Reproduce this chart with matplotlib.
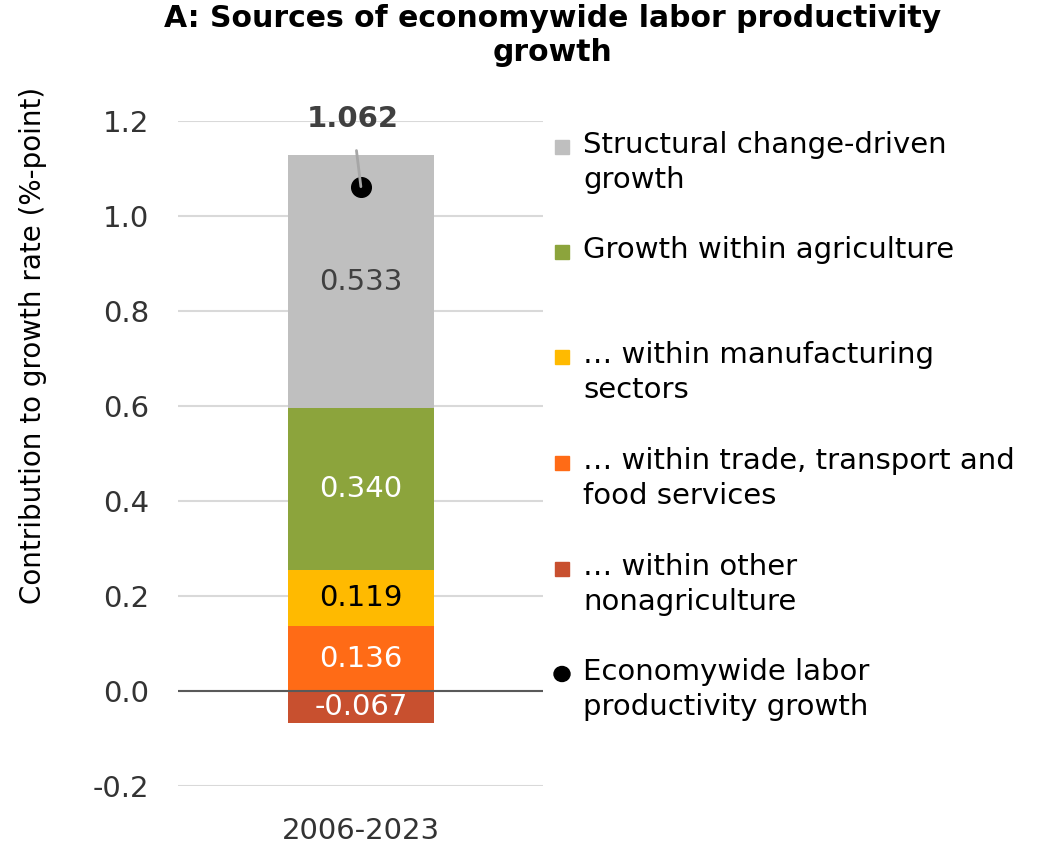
import matplotlib
matplotlib.use("Agg")
import matplotlib.pyplot as plt
from matplotlib.patches import Rectangle, Ellipse

plt.rcParams['font.family'] = ['DejaVu Sans']

period = ["2006-2023"]
components = [
    "Structural change-driven\ngrowth",
    "Growth within agriculture",
    "… within manufacturing\nsectors",
    "… within trade, transport and\nfood services",
    "… within other\nnonagriculture",
]
values = [0.533, 0.340, 0.119, 0.136, -0.067]
colors = ["#BFBFBF", "#8CA43C", "#FFBA00", "#FF6B16", "#C8502F"]
label_colors = ["#404040", "white", "black", "white", "white"]
total_label = "Economywide labor\nproductivity growth"
total = 1.062

fig = plt.figure(figsize=(10.43, 8.47), dpi=100)
ax = fig.add_axes([0.171, 0.072, 0.350, 0.785])

# stack positives upward from zero (bottom item first), negatives downward
order = [4, 3, 2, 1, 0]
pos_base, neg_base = 0.0, 0.0
for i in order:
    v = values[i]
    if v >= 0:
        bottom = pos_base
        pos_base += v
    else:
        bottom = neg_base + v
        neg_base += v
    ax.bar(0, abs(v), bottom=bottom, width=0.4, color=colors[i], zorder=2)
    ax.text(0, bottom + abs(v) / 2, f"{v:.3f}", ha='center', va='center',
            fontsize=21, color=label_colors[i], zorder=4)

ax.scatter([0], [total], s=200, color='black', zorder=5)
ax.annotate(f"{total:.3f}", xy=(0, total), xytext=(-6, 49), textcoords='offset points',
            ha='center', va='center', fontsize=21, fontweight='bold', color='#404040',
            arrowprops=dict(arrowstyle='-', color='#A6A6A6', lw=2, shrinkA=11, shrinkB=0),
            zorder=6)

yticks = [-0.2, 0.0, 0.2, 0.4, 0.6, 0.8, 1.0, 1.2]
ax.set_xlim(-0.5, 0.5)
ax.set_ylim(-0.2, 1.2)
ax.set_yticks(yticks)
ax.set_yticklabels([f"{t:.1f}" for t in yticks])
ax.set_xticks([0])
ax.set_xticklabels(period)
ax.tick_params(axis='both', length=0, labelsize=21, colors='#333333')
ax.tick_params(axis='x', pad=22)
ax.tick_params(axis='y', pad=21)
ax.grid(axis='y', color='#D9D9D9', lw=1.5, zorder=0)
ax.axhline(0, color='#595959', lw=1.5, zorder=3)
for s in ax.spines.values():
    s.set_visible(False)
ax.set_ylabel("Contribution to growth rate (%-point)", fontsize=20)
ax.yaxis.set_label_coords(-0.36, 0.663)

fig.text(0.530, 0.995, "A: Sources of economywide labor productivity\ngrowth",
         ha='center', va='top', fontsize=21.5, fontweight='bold', linespacing=1.2)

# legend drawn by hand so each entry's marker sits on its first line
W, H = 1043, 847
first_line_y = [147, 252, 357, 463, 569, 674]
for k, y in enumerate(first_line_y):
    if k < len(components):
        fig.patches.append(Rectangle((555 / W, 1 - (y + 7) / H), 14 / W, 14 / H,
                                     transform=fig.transFigure, color=colors[k]))
        label = components[k]
    else:
        fig.patches.append(Ellipse((562 / W, 1 - y / H), 16 / W, 15 / H,
                                   transform=fig.transFigure, color='black'))
        label = total_label
    fig.text(583 / W, 1 - (y - 16) / H, label, ha='left', va='top',
             fontsize=21, linespacing=1.32, color='black')

fig.savefig("out.png", dpi=100)
